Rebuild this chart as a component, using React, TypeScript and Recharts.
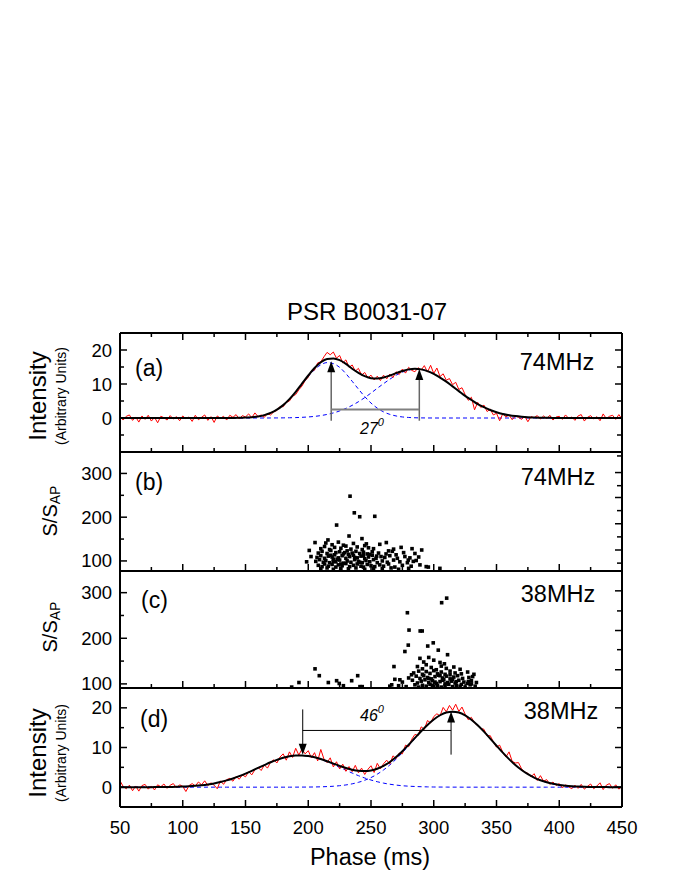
import React from "react";
import { ComposedChart, Line, Scatter, XAxis, YAxis, ReferenceLine } from "recharts";

// fit curves sampled every 5 ms from 50 to 450 ms
const FIT_A = [
  0, 0, 0, 0, 0, 0, 0, 0, 0, 0,
  0, 0, 0, 0, 0, 0, 0, 0.01, 0.02, 0.05,
  0.12, 0.24, 0.46, 0.85, 1.49, 2.44, 3.79, 5.55, 7.7, 10.1,
  12.5, 14.7, 16.4, 17.35, 17.5, 17.0, 15.9, 14.5, 13.3, 12.3,
  11.7, 11.6, 11.9, 12.5, 13.2, 13.8, 14.3, 14.5, 14.3, 13.8,
  13.0, 11.9, 10.7, 9.3, 7.9, 6.5, 5.3, 4.1, 3.2, 2.35,
  1.71, 1.2, 0.83, 0.56, 0.37, 0.23, 0.14, 0.09, 0.05, 0.03,
  0.02, 0.01, 0, 0, 0, 0, 0, 0, 0, 0,
  0,
];
const COMP_A1 = [
  0, 0, 0, 0, 0, 0, 0, 0, 0, 0,
  0, 0, 0, 0, 0, 0, 0, 0.01, 0.02, 0.05,
  0.12, 0.24, 0.46, 0.85, 1.48, 2.42, 3.75, 5.48, 7.58, 9.9,
  12.2, 14.2, 15.65, 16.3, 16.0, 14.9, 13.05, 10.8, 8.5, 6.3,
  4.4, 2.9, 1.8, 1.07, 0.6, 0.31, 0.16, 0.07, 0.03, 0.01,
  0, 0, 0, 0, 0, 0, 0, 0, 0, 0,
  0, 0, 0, 0, 0, 0, 0, 0, 0, 0,
  0, 0, 0, 0, 0, 0, 0, 0, 0, 0,
  0,
];
const COMP_A2 = [
  0, 0, 0, 0, 0, 0, 0, 0, 0, 0,
  0, 0, 0, 0, 0, 0, 0, 0, 0, 0,
  0, 0, 0, 0, 0.01, 0.02, 0.04, 0.07, 0.12, 0.2,
  0.31, 0.47, 0.71, 1.05, 1.49, 2.07, 2.82, 3.72, 4.79, 6.0,
  7.34, 8.74, 10.1, 11.4, 12.6, 13.5, 14.1, 14.4, 14.3, 13.8,
  13.0, 11.9, 10.7, 9.3, 7.9, 6.5, 5.3, 4.1, 3.2, 2.35,
  1.71, 1.2, 0.83, 0.56, 0.37, 0.23, 0.14, 0.09, 0.05, 0.03,
  0.02, 0.01, 0, 0, 0, 0, 0, 0, 0, 0,
  0,
];
const FIT_D = [
  0, 0, 0, 0, 0.01, 0.01, 0.02, 0.04, 0.06, 0.1,
  0.15, 0.23, 0.34, 0.49, 0.69, 0.95, 1.3, 1.71, 2.2, 2.78,
  3.42, 4.1, 4.85, 5.57, 6.27, 6.87, 7.4, 7.77, 7.98, 8.01,
  7.85, 7.54, 7.09, 6.55, 5.95, 5.37, 4.83, 4.4, 4.12, 4.05,
  4.22, 4.65, 5.36, 6.34, 7.6, 9.06, 10.7, 12.42, 14.11, 15.67,
  17.04, 18.13, 18.82, 19.01, 18.81, 18.1, 17.0, 15.6, 14.0, 12.25,
  10.45, 8.7, 7.07, 5.6, 4.34, 3.28, 2.42, 1.74, 1.22, 0.84,
  0.56, 0.37, 0.23, 0.14, 0.09, 0.05, 0.03, 0.02, 0.01, 0,
  0,
];
const COMP_D1 = [
  0, 0, 0, 0, 0.01, 0.01, 0.02, 0.04, 0.06, 0.1,
  0.15, 0.23, 0.34, 0.49, 0.69, 0.95, 1.3, 1.71, 2.2, 2.78,
  3.42, 4.1, 4.85, 5.57, 6.27, 6.87, 7.4, 7.77, 7.97, 7.99,
  7.82, 7.49, 7.0, 6.4, 5.72, 5.0, 4.27, 3.56, 2.9, 2.31,
  1.8, 1.37, 1.02, 0.74, 0.53, 0.36, 0.25, 0.17, 0.11, 0.07,
  0.04, 0.03, 0.02, 0.01, 0.01, 0, 0, 0, 0, 0,
  0, 0, 0, 0, 0, 0, 0, 0, 0, 0,
  0, 0, 0, 0, 0, 0, 0, 0, 0, 0,
  0,
];
const COMP_D2 = [
  0, 0, 0, 0, 0, 0, 0, 0, 0, 0,
  0, 0, 0, 0, 0, 0, 0, 0, 0, 0,
  0, 0, 0, 0, 0, 0, 0, 0, 0.01, 0.02,
  0.03, 0.05, 0.09, 0.15, 0.23, 0.37, 0.56, 0.84, 1.22, 1.74,
  2.42, 3.28, 4.34, 5.6, 7.07, 8.7, 10.45, 12.25, 14.0, 15.6,
  17.0, 18.1, 18.8, 19.0, 18.8, 18.1, 17.0, 15.6, 14.0, 12.25,
  10.45, 8.7, 7.07, 5.6, 4.34, 3.28, 2.42, 1.74, 1.22, 0.84,
  0.56, 0.37, 0.23, 0.14, 0.09, 0.05, 0.03, 0.02, 0.01, 0,
  0,
];

// measured profiles, one bin every 2.5 ms from 50 to 450 ms
const RED_A = [
  0.4, -0.6, 0.5, 0.9, -0.7, 0.3, -1.2, 0.6, -0.4, 0.8,
  -0.9, 0.2, -1.4, 0.5, 0.1, -0.6, 0.7, -0.3, 0.4, -0.8,
  0.6, -0.2, 0.3, -1.0, 0.8, -0.5, 0.2, 0.9, -0.7, 0.4,
  -1.3, 0.6, -0.1, 0.5, -0.6, 0.8, 0.2, 1.0, -0.3, 0.7,
  0.3, 1.2, 0.1, 1.5, 0.4, 0.9, 0.2, 1.3, 0.9, 1.8,
  2.2, 3.4, 3.3, 4.6, 5.0, 6.4, 6.9, 8.3, 9.4, 11.0,
  12.0, 13.8, 14.1, 16.2, 16.5, 18.0, 19.3, 18.6, 19.4, 17.6,
  18.4, 16.2, 17.1, 14.9, 15.6, 13.8, 14.6, 12.6, 13.4, 11.8,
  12.6, 11.2, 12.3, 11.0, 12.6, 11.5, 12.9, 11.9, 13.6, 12.8,
  14.4, 13.2, 14.9, 14.0, 13.6, 14.8, 14.1, 15.4, 13.5, 15.5,
  13.1, 14.7, 12.2, 13.0, 11.1, 11.6, 9.8, 10.5, 8.4, 8.9,
  6.9, 5.2, 6.1, 2.4, 4.6, 3.1, 3.8, 1.9, 2.6, 0.9,
  1.4, -0.8, 1.2, 0.3, 0.9, -0.5, 0.6, 0.2, -0.4, 0.5,
  -1.1, 0.4, 0.1, 0.7, -0.3, 0.6, -0.2, 0.8, -0.6, 0.3,
  0.5, -0.4, 0.9, -0.1, 0.3, -0.7, 0.6, 1.0, -0.9, 0.2,
  0.7, -0.3, 0.4, -0.8, 1.2, -0.2, 0.5, 0.8, -0.4, 1.0,
  -0.3,
];
const RED_D = [
  1.6, 0.2, -0.4, 0.5, -0.9, 0.3, -1.0, 0.4, 0.7, -0.5,
  0.3, -0.7, 0.6, 0.1, 0.8, -0.3, 0.5, 0.9, -0.2, 0.6,
  0.2, -1.1, 0.4, 0.9, 0.3, 1.3, 0.6, 1.6, 0.4, 1.1,
  0.5, -0.4, 1.6, 0.7, 1.9, 2.2, 1.5, 2.7, 2.0, 3.1,
  2.6, 3.9, 3.1, 4.4, 5.0, 4.2, 5.6, 4.8, 6.3, 6.9,
  6.1, 7.6, 8.4, 6.8, 8.9, 7.5, 9.8, 8.1, 9.6, 8.4,
  9.2, 7.4, 8.7, 6.6, 9.5, 7.1, 6.2, 7.4, 5.1, 6.4,
  4.6, 5.8, 4.0, 5.2, 3.9, 5.5, 3.6, 4.8, 3.2, 4.5,
  5.4, 3.7, 6.0, 4.6, 5.9, 6.8, 5.8, 7.9, 7.2, 8.6,
  8.4, 10.6, 10.2, 12.1, 13.3, 13.0, 15.2, 14.6, 16.8, 16.2,
  17.8, 18.5, 18.0, 20.1, 19.0, 20.6, 19.4, 20.9, 19.1, 20.2,
  18.4, 17.0, 17.6, 16.2, 15.5, 14.8, 14.6, 12.9, 13.0, 11.4,
  10.1, 10.6, 8.8, 7.6, 8.9, 6.5, 6.1, 6.2, 4.6, 3.8,
  3.5, 2.6, 3.4, 1.7, 2.9, 1.5, 1.9, 0.7, 1.3, 0.4,
  0.9, -0.2, 0.6, 0.1, -0.4, 0.5, -0.3, 0.7, -0.5, 0.2,
  0.8, -0.4, 0.3, 1.1, -0.6, 0.5, 0.9, -0.3, 0.6, -0.5,
  0.2,
];

// single pulses: [phase ms, S/S_AP]
const PULSES_74 = [
  [233.3, 248], [236.7, 210], [241, 201], [253, 202], [222.6, 182], [232.5, 157], [205.4, 142],
  [242.8, 151], [246.3, 139], [262.2, 142], [215.7, 148], [200.8, 124], [202.2, 110], [264, 123],
  [282.7, 128], [290.4, 125], [270, 114], [254.5, 111], [279.7, 102], [283.7, 99], [295.7, 86],
  [304.9, 83], [198.7, 98],
  [214, 141], [219, 137], [224, 143], [228, 136], [236, 140], [245, 135], [257, 138],
  [210, 128], [213, 133], [217, 126], [221, 131], [226, 129], [230, 134], [234, 127], [239, 132],
  [243, 126], [248, 130], [252, 128], [268, 127], [274, 131],
  [208, 118], [211, 122], [215, 117], [218, 124], [222, 119], [225, 121], [228, 116], [231, 123],
  [235, 118], [238, 122], [241, 117], [244, 120], [247, 116], [251, 121], [256, 118], [262, 116],
  [267, 122], [276, 119], [285, 117],
  [207, 108], [210, 112], [213, 106], [216, 111], [219, 109], [221, 114], [224, 107], [227, 112],
  [230, 106], [233, 110], [236, 113], [239, 107], [242, 111], [245, 105], [248, 109], [251, 113],
  [254, 106], [258, 110], [261, 108], [265, 112], [271, 106], [277, 110], [281, 107], [288, 109],
  [206, 99], [209, 103], [212, 97], [214, 101], [217, 96], [220, 104], [222, 98], [225, 102],
  [228, 95], [231, 100], [234, 97], [237, 103], [240, 99], [243, 96], [246, 101], [249, 98],
  [252, 103], [255, 96], [259, 100], [263, 97], [268, 102], [273, 98], [279, 96], [286, 101],
  [208, 90], [211, 87], [213, 93], [216, 88], [219, 92], [222, 86], [224, 91], [227, 89],
  [230, 94], [233, 87], [236, 90], [239, 93], [242, 88], [244, 86], [247, 92], [250, 89],
  [253, 87], [257, 91], [260, 88], [264, 93], [269, 86], [275, 90], [282, 88], [289, 91], [294, 87],
  [210, 82], [215, 84], [220, 81], [226, 83], [232, 82], [238, 84], [245, 81], [252, 83],
  [259, 82], [266, 84], [272, 81], [280, 83],
  [218, 113], [223, 104], [229, 119], [237, 108], [241, 97], [249, 115], [226, 93], [232, 115],
  [220, 99], [244, 112],
];
const PULSES_38 = [
  [310.3, 288], [306.3, 278], [279, 256], [280.3, 218], [289.2, 216], [290.8, 216], [279.7, 185],
  [277, 171], [295.2, 183], [299.6, 190], [303.6, 174], [311, 164], [268.3, 138], [205.4, 133],
  [208.8, 118], [192.6, 103], [216, 103], [222.6, 107], [234.6, 107], [239.4, 118], [228, 96],
  [243, 94], [269, 110], [273, 109], [265, 95], [186.8, 93], [308.5, 144], [332, 121],
  [282.3, 120], [266.5, 98], [224.7, 101], [241.2, 94], [327.6, 105], [330, 100],
  [289, 156], [292, 148], [296, 158], [300, 152], [305, 147],
  [287, 138], [291, 133], [294, 142], [298, 136], [302, 131], [306, 139], [310, 134], [316, 137], [321, 132],
  [284, 124], [288, 128], [291, 121], [294, 127], [297, 123], [300, 129], [303, 122], [306, 126],
  [309, 121], [313, 128], [317, 124], [322, 122], [327, 126],
  [280, 113], [286, 117], [289, 112], [292, 118], [295, 114], [298, 111], [301, 116], [304, 119],
  [307, 113], [310, 117], [313, 111], [316, 115], [319, 118], [323, 112], [328, 114], [331, 116],
  [275, 104], [283, 108], [287, 102], [290, 106], [293, 109], [296, 103], [299, 107], [302, 101],
  [305, 105], [308, 109], [311, 103], [314, 106], [317, 102], [320, 108], [324, 104], [327, 101],
  [330, 107], [334, 103],
  [272, 96], [278, 94], [285, 98], [288, 93], [291, 97], [294, 95], [297, 99], [300, 94],
  [303, 97], [306, 93], [309, 96], [312, 99], [315, 94], [318, 97], [321, 95], [325, 93],
  [329, 98], [333, 95],
  [296, 112], [301, 104], [305, 118], [309, 100], [313, 120], [318, 105], [322, 99], [299, 97],
  [307, 108], [315, 110],
];

const X_TICKS = [50, 75, 100, 125, 150, 175, 200, 225, 250, 275, 300, 325, 350, 375, 400, 425, 450];
const X_MAJOR = [50, 100, 150, 200, 250, 300, 350, 400, 450];
const X_DOMAIN: [number, number] = [50, 450];

const FONT = "'Liberation Sans', Arial, Helvetica, sans-serif";
const PLOT_W = 502; // px between the left and right frame
const PAD = 16;

const fitRows = (vals: number[]) => vals.map((y, i) => ({ x: 50 + i * 5, y }));
const redRows = (vals: number[]) => vals.map((y, i) => ({ x: 50 + i * 2.5, y }));
const pulseRows = (pts: number[][]) => pts.map(([x, y]) => ({ x, y }));

const square = (props: any) => {
  const { cx, cy } = props;
  if (cx == null || cy == null) return null;
  return <rect x={cx - 1.8} y={cy - 1.8} width={3.6} height={3.6} fill="#000" />;
};

const arrow = (dir: "up" | "down", color: string) => (props: any) => {
  const { cx, cy } = props;
  if (cx == null || cy == null) return null;
  const h = dir === "up" ? 11 : -11;
  return <polygon points={`${cx},${cy} ${cx - 4},${cy + h} ${cx + 4},${cy + h}`} fill={color} />;
};

const leftLabel = (majors: number[]) => (props: any) => {
  const { x, y, payload } = props;
  if (!majors.includes(payload.value)) return <g />;
  return (
    <text x={x - 8} y={y} textAnchor="end" dominantBaseline="central" fontSize={18.5} fontFamily={FONT} fill="#000">
      {payload.value}
    </text>
  );
};

const bottomLabel = (props: any) => {
  const { x, y, payload } = props;
  if (!X_MAJOR.includes(payload.value)) return <g />;
  return (
    <text x={x} y={y + 20} textAnchor="middle" dominantBaseline="central" fontSize={18.5} fontFamily={FONT} fill="#000">
      {payload.value}
    </text>
  );
};

// frame and inward ticks of one panel, in data units of that panel
function frameAndTicks(d: [number, number], hPx: number, left: number[], leftMajor: number[], right: number[], rightMajor: number[], top: boolean) {
  const ux = (X_DOMAIN[1] - X_DOMAIN[0]) / PLOT_W;
  const uy = (d[1] - d[0]) / hPx;
  const common = { xAxisId: "b", yAxisId: "l", ifOverflow: "visible" as const, stroke: "#000" };
  const out: React.ReactNode[] = [];
  X_TICKS.forEach((v) => {
    const len = X_MAJOR.includes(v) ? 7 : 4;
    out.push(<ReferenceLine key={`b${v}`} {...common} strokeWidth={1.5} segment={[{ x: v, y: d[0] }, { x: v, y: d[0] + len * uy }]} />);
    if (top) out.push(<ReferenceLine key={`t${v}`} {...common} strokeWidth={1.5} segment={[{ x: v, y: d[1] }, { x: v, y: d[1] - len * uy }]} />);
  });
  left.forEach((v) => {
    const len = leftMajor.includes(v) ? 7 : 4;
    out.push(<ReferenceLine key={`l${v}`} {...common} strokeWidth={1.5} segment={[{ x: X_DOMAIN[0], y: v }, { x: X_DOMAIN[0] + len * ux, y: v }]} />);
  });
  right.forEach((v) => {
    const len = rightMajor.includes(v) ? 7 : 5;
    out.push(<ReferenceLine key={`r${v}`} {...common} strokeWidth={1.5} segment={[{ x: X_DOMAIN[1], y: v }, { x: X_DOMAIN[1] - len * ux, y: v }]} />);
  });
  out.push(<ReferenceLine key="fl" {...common} strokeWidth={2} segment={[{ x: X_DOMAIN[0], y: d[0] }, { x: X_DOMAIN[0], y: d[1] }]} />);
  out.push(<ReferenceLine key="fr" {...common} strokeWidth={2} segment={[{ x: X_DOMAIN[1], y: d[0] }, { x: X_DOMAIN[1], y: d[1] }]} />);
  out.push(<ReferenceLine key="fb" {...common} strokeWidth={2} segment={[{ x: X_DOMAIN[0], y: d[0] }, { x: X_DOMAIN[1], y: d[0] }]} />);
  out.push(<ReferenceLine key="ft" {...common} strokeWidth={2} segment={[{ x: X_DOMAIN[0], y: d[1] }, { x: X_DOMAIN[1], y: d[1] }]} />);
  return out;
}

function Panel(props: {
  top: number;
  height: number;
  domain: [number, number];
  leftTicks: number[];
  leftMajor: number[];
  rightTicks: number[];
  rightMajor: number[];
  xLabels?: boolean;
  topTicks?: boolean;
  children: React.ReactNode;
}) {
  const axisH = props.xLabels ? 50 : 0;
  return (
    <div style={{ position: "absolute", left: 0, top: props.top - PAD }}>
      <ComposedChart
        width={675}
        height={PAD + props.height + (props.xLabels ? axisH : PAD)}
        margin={{ top: PAD, right: 53, bottom: props.xLabels ? 0 : PAD, left: 60 }}
      >
        <XAxis
          xAxisId="b"
          dataKey="x"
          type="number"
          domain={X_DOMAIN}
          ticks={X_TICKS}
          interval={0}
          allowDataOverflow
          hide={!props.xLabels}
          height={axisH}
          tickSize={0}
          tickMargin={0}
          tickLine={false}
          axisLine={false}
          tick={bottomLabel}
        />
        <YAxis
          yAxisId="l"
          dataKey="y"
          type="number"
          domain={props.domain}
          ticks={props.leftTicks}
          interval={0}
          allowDataOverflow
          width={60}
          tickSize={0}
          tickMargin={0}
          tickLine={false}
          axisLine={false}
          tick={leftLabel(props.leftMajor)}
        />
        {props.children}
        {frameAndTicks(props.domain, props.height, props.leftTicks, props.leftMajor, props.rightTicks, props.rightMajor, !!props.topTicks)}
      </ComposedChart>
    </div>
  );
}

const seriesCommon = {
  xAxisId: "b",
  yAxisId: "l",
  dataKey: "y",
  dot: false,
  activeDot: false,
  isAnimationActive: false,
} as const;

export default function App() {
  return (
    <div style={{ position: "absolute", left: 0, top: 0, width: 675, height: 873, background: "#fff", fontFamily: FONT }}>
      <Panel top={333} height={119} domain={[-10, 25]} leftTicks={[-5, 0, 5, 10, 15, 20]} leftMajor={[0, 10, 20]}
        rightTicks={[-5, 0, 5, 10, 15, 20]} rightMajor={[0, 10, 20]} topTicks>
        <Line {...seriesCommon} data={fitRows(COMP_A1)} type="monotone" stroke="#0000ff" strokeWidth={1} strokeDasharray="4 3" />
        <Line {...seriesCommon} data={fitRows(COMP_A2)} type="monotone" stroke="#0000ff" strokeWidth={1} strokeDasharray="4 3" />
        <Line {...seriesCommon} data={redRows(RED_A)} type="linear" stroke="#ff0000" strokeWidth={1} />
        <Line {...seriesCommon} data={fitRows(FIT_A)} type="monotone" stroke="#000" strokeWidth={2} />
        <ReferenceLine xAxisId="b" yAxisId="l" segment={[{ x: 218.3, y: -0.8 }, { x: 218.3, y: 15 }]} stroke="#666" strokeWidth={1.5} />
        <ReferenceLine xAxisId="b" yAxisId="l" segment={[{ x: 288.5, y: -0.8 }, { x: 288.5, y: 12.5 }]} stroke="#666" strokeWidth={1.5} />
        <ReferenceLine xAxisId="b" yAxisId="l" segment={[{ x: 218.3, y: 2.5 }, { x: 288.5, y: 2.5 }]} stroke="#808080" strokeWidth={2} />
        <Scatter xAxisId="b" yAxisId="l" dataKey="y" data={[{ x: 218.3, y: 16.7 }, { x: 288.5, y: 14.4 }]} shape={arrow("up", "#000")} isAnimationActive={false} />
      </Panel>

      <Panel top={452} height={119} domain={[77, 349]} leftTicks={[100, 150, 200, 250, 300]} leftMajor={[100, 200, 300]}
        rightTicks={[95, 125, 155, 185, 215, 245, 272, 302, 340]} rightMajor={[125, 185, 245, 302]}>
        <Scatter xAxisId="b" yAxisId="l" dataKey="y" data={pulseRows(PULSES_74)} shape={square} isAnimationActive={false} />
      </Panel>

      <Panel top={571} height={117} domain={[91, 347.5]} leftTicks={[100, 150, 200, 250, 300]} leftMajor={[100, 200, 300]}
        rightTicks={[131, 175, 217, 260, 304]} rightMajor={[131, 217, 304]}>
        <Scatter xAxisId="b" yAxisId="l" dataKey="y" data={pulseRows(PULSES_38)} shape={square} isAnimationActive={false} />
      </Panel>

      <Panel top={688} height={119} domain={[-5, 25]} leftTicks={[0, 5, 10, 15, 20]} leftMajor={[0, 10, 20]}
        rightTicks={[0, 5, 10, 15, 20]} rightMajor={[0, 10, 20]} xLabels>
        <Line {...seriesCommon} data={fitRows(COMP_D1)} type="monotone" stroke="#0000ff" strokeWidth={1} strokeDasharray="4 3" />
        <Line {...seriesCommon} data={fitRows(COMP_D2)} type="monotone" stroke="#0000ff" strokeWidth={1} strokeDasharray="4 3" />
        <Line {...seriesCommon} data={redRows(RED_D)} type="linear" stroke="#ff0000" strokeWidth={1} />
        <Line {...seriesCommon} data={fitRows(FIT_D)} type="monotone" stroke="#000" strokeWidth={2} />
        <ReferenceLine xAxisId="b" yAxisId="l" segment={[{ x: 195.6, y: 19.6 }, { x: 195.6, y: 10.5 }]} stroke="#000" strokeWidth={1} />
        <ReferenceLine xAxisId="b" yAxisId="l" segment={[{ x: 195.6, y: 14.3 }, { x: 313.8, y: 14.3 }]} stroke="#000" strokeWidth={1} />
        <ReferenceLine xAxisId="b" yAxisId="l" segment={[{ x: 313.8, y: 8.2 }, { x: 313.8, y: 16.5 }]} stroke="#000" strokeWidth={1} />
        <Scatter xAxisId="b" yAxisId="l" dataKey="y" data={[{ x: 195.6, y: 8.2 }]} shape={arrow("down", "#000")} isAnimationActive={false} />
        <Scatter xAxisId="b" yAxisId="l" dataKey="y" data={[{ x: 313.8, y: 19.1 }]} shape={arrow("up", "#000")} isAnimationActive={false} />
      </Panel>

      <svg width={675} height={873} style={{ position: "absolute", left: 0, top: 0, pointerEvents: "none" }} fontFamily={FONT}>
        <text x={367} y={311} textAnchor="middle" dominantBaseline="central" fontSize={24}>PSR B0031-07</text>
        <text x={370} y={857} textAnchor="middle" dominantBaseline="central" fontSize={23.5}>Phase (ms)</text>

        <text transform="rotate(-90 37 396)" x={37} y={396} textAnchor="middle" dominantBaseline="central" fontSize={24}>Intensity</text>
        <text transform="rotate(-90 61 396)" x={61} y={396} textAnchor="middle" dominantBaseline="central" fontSize={14}>(Arbitrary Units)</text>
        <text transform="rotate(-90 50 511)" x={50} y={511} textAnchor="middle" dominantBaseline="central" fontSize={20}>
          S/S<tspan fontSize={14} dy={5}>AP</tspan>
        </text>
        <text transform="rotate(-90 50 627)" x={50} y={627} textAnchor="middle" dominantBaseline="central" fontSize={20}>
          S/S<tspan fontSize={14} dy={5}>AP</tspan>
        </text>
        <text transform="rotate(-90 37 753)" x={37} y={753} textAnchor="middle" dominantBaseline="central" fontSize={24}>Intensity</text>
        <text transform="rotate(-90 61 753)" x={61} y={753} textAnchor="middle" dominantBaseline="central" fontSize={14}>(Arbitrary Units)</text>

        <text x={135} y={368} dominantBaseline="central" fontSize={23}>(a)</text>
        <text x={135} y={482} dominantBaseline="central" fontSize={23}>(b)</text>
        <text x={141} y={600} dominantBaseline="central" fontSize={23}>(c)</text>
        <text x={140} y={719} dominantBaseline="central" fontSize={23}>(d)</text>

        <text x={557} y={362} textAnchor="middle" dominantBaseline="central" fontSize={23.5}>74MHz</text>
        <text x={558} y={477} textAnchor="middle" dominantBaseline="central" fontSize={23.5}>74MHz</text>
        <text x={558} y={594} textAnchor="middle" dominantBaseline="central" fontSize={23.5}>38MHz</text>
        <text x={561} y={711} textAnchor="middle" dominantBaseline="central" fontSize={23.5}>38MHz</text>

        <text x={372} y={428} textAnchor="middle" dominantBaseline="central" fontSize={16} fontStyle="italic">
          27<tspan fontSize={11} dy={-6}>0</tspan>
        </text>
        <text x={372} y={715} textAnchor="middle" dominantBaseline="central" fontSize={16} fontStyle="italic">
          46<tspan fontSize={11} dy={-6}>0</tspan>
        </text>
      </svg>
    </div>
  );
}
